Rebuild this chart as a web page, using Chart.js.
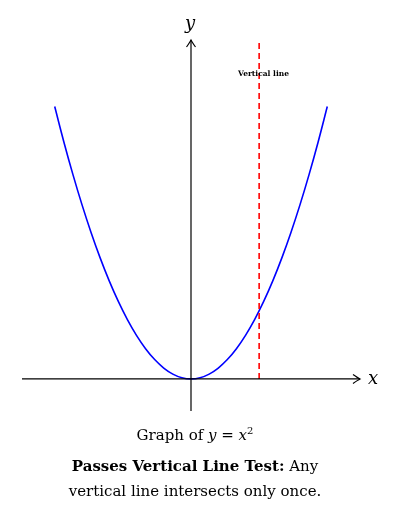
<!DOCTYPE html>
<html><head><meta charset="utf-8">
<script src="https://cdn.jsdelivr.net/npm/chart.js@4/dist/chart.umd.min.js"></script>
<style>
body{margin:0;background:#fff;width:401px;height:516px;position:relative;overflow:hidden;font-family:"DejaVu Serif","Liberation Serif",serif}
#c{position:absolute;left:0;top:0}
.t{position:absolute;white-space:nowrap;color:#000}
</style></head><body>
<canvas id="c" width="401" height="516"></canvas>
<div class="t" style="left:185px;top:12px;font-size:18px;font-style:italic">y</div>
<div class="t" style="left:368px;top:367px;font-size:18px;font-style:italic">x</div>
<div class="t" style="left:238px;top:69px;font-size:7.5px;font-weight:bold;">Vertical line</div>
<div class="t" style="left:0;width:390px;text-align:center;top:425px;font-size:15px">Graph of <i>y</i> = <i>x</i><sup style="font-size:10px">2</sup></div>
<div class="t" style="left:0;width:390px;text-align:center;top:457px;font-size:15px"><b>Passes Vertical Line Test:</b> Any</div>
<div class="t" style="left:0;width:390px;text-align:center;top:482px;font-size:15px">vertical line intersects only once.</div>
<script>
const xs=[-1.5,-1.4,-1.3,-1.2,-1.1,-1.0,-0.9,-0.8,-0.7,-0.6,-0.5,-0.4,-0.3,-0.2,-0.1,0,0.1,0.2,0.3,0.4,0.5,0.6,0.7,0.8,0.9,1.0,1.1,1.2,1.3,1.4,1.5];
const ys=[2.25,1.96,1.69,1.44,1.21,1.0,0.81,0.64,0.49,0.36,0.25,0.16,0.09,0.04,0.01,0,0.01,0.04,0.09,0.16,0.25,0.36,0.49,0.64,0.81,1.0,1.21,1.44,1.69,1.96,2.25];
const vLineX=0.75;
const xAxisRange=[-1.86,1.86];
const yAxisRange=[-0.265,2.8];
const arrows={id:'arr',afterDatasetsDraw(ch){const c=ch.ctx,x=ch.scales.x,y=ch.scales.y;
 c.save();c.strokeStyle='#000';c.lineWidth=1.2;
 const ax=x.getPixelForValue(xAxisRange[1]),ay=y.getPixelForValue(0);
 c.beginPath();c.moveTo(ax-7,ay-4.5);c.quadraticCurveTo(ax-2,ay-1,ax,ay);c.quadraticCurveTo(ax-2,ay+1,ax-7,ay+4.5);c.stroke();
 const bx=x.getPixelForValue(0),by=y.getPixelForValue(yAxisRange[1]);
 c.beginPath();c.moveTo(bx-4.5,by+7);c.quadraticCurveTo(bx-1,by+2,bx,by);c.quadraticCurveTo(bx+1,by+2,bx+4.5,by+7);c.stroke();
 c.restore();}};
new Chart(document.getElementById('c'),{type:'scatter',
 data:{datasets:[
  {data:[{x:xAxisRange[0],y:0},{x:xAxisRange[1],y:0}],showLine:true,borderColor:'#000',borderWidth:1.2,pointRadius:0},
  {data:[{x:0,y:yAxisRange[0]},{x:0,y:yAxisRange[1]}],showLine:true,borderColor:'#000',borderWidth:1.2,pointRadius:0},
  {data:[{x:vLineX,y:0},{x:vLineX,y:yAxisRange[1]}],showLine:true,borderColor:'#ff0000',borderWidth:1.6,borderDash:[6,4],pointRadius:0},
  {data:xs.map((v,i)=>({x:v,y:ys[i]})),showLine:true,borderColor:'#0000ff',borderWidth:1.6,pointRadius:0,tension:0.4}
 ]},
 options:{responsive:false,animation:false,layout:{padding:{left:22,right:41,top:40,bottom:105}},
  plugins:{legend:{display:false},tooltip:{enabled:false}},
  scales:{x:{min:xAxisRange[0],max:xAxisRange[1],display:false},y:{min:yAxisRange[0],max:yAxisRange[1],display:false}}},
 plugins:[arrows]});
</script></body></html>
